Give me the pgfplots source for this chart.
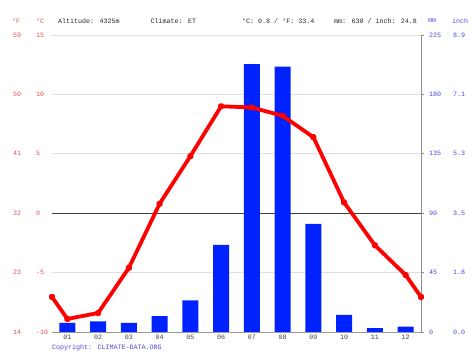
\documentclass[border=0pt]{standalone}
\usepackage{pgfplots}
\usepackage{pgfplotstable}
\pgfplotsset{compat=1.18}
\usepackage{fontspec}
\setmainfont{Liberation Mono}
\definecolor{tred}{RGB}{226,80,80}
\definecolor{tblue}{RGB}{72,72,226}
\definecolor{barblue}{RGB}{0,34,255}
\definecolor{linered}{RGB}{255,0,0}
\newcommand{\fs}{\fontsize{6.7}{8}\selectfont}

\pgfplotstableread{
m mm
1 7
2 8
3 7
4 12
5 24
6 66
7 203
8 201
9 82
10 13
11 3
12 4
}\prec

\pgfplotstableread{
x t
0.5 -7.05
1 -8.9
2 -8.4
3 -4.6
4 0.8
5 4.8
6 9.0
7 8.9
8 8.2
9 6.4
10 0.9
11 -2.7
12 -5.2
12.5 -7.05
}\temp

\begin{document}
\begin{tikzpicture}
\path[use as bounding box] (0,0) rectangle (474bp,355bp);
% axis 1: temperature grid + labels
\begin{axis}[
  scale only axis, width=369bp, height=297bp,
  at={(52bp,23bp)}, anchor=south west,
  xmin=0.5, xmax=12.5, ymin=-10, ymax=15,
  separate axis lines,
  axis x line*=bottom, axis y line*=left,
  x axis line style={draw=gray!80, -},
  y axis line style={draw=none},
  xtick={1,...,12},
  xticklabels={01,02,03,04,05,06,07,08,09,10,11,12},
  xtick style={draw=none},
  extra x ticks={0.5,1.5,...,12.5},
  extra x tick labels={},
  extra x tick style={tick style={draw=gray!80, line width=0.6pt}, major tick length=3bp, tick align=outside},
  xticklabel style={font=\fs, text=black!75, inner sep=0pt, yshift=-3bp},
  ytick={-10,-5,0,5,10,15},
  yticklabels={\makebox[23bp][l]{14}-10,\makebox[23bp][l]{23}-5,\makebox[23bp][l]{32}0,\makebox[23bp][l]{41}5,\makebox[23bp][l]{50}10,\makebox[23bp][l]{59}15},
  ytick style={draw=none},
  yticklabel style={font=\fs, text=tred, anchor=west, inner sep=0pt, xshift=-39bp},
  ymajorgrids, grid style={draw=gray!25, line width=0.6pt},
]
\draw[black!75, line width=0.8pt] (axis cs:0.5,0) -- (axis cs:12.5,0);
\end{axis}
% axis 2: precipitation bars
\begin{axis}[
  scale only axis, width=369bp, height=297bp,
  at={(52bp,23bp)}, anchor=south west,
  xmin=0.5, xmax=12.5, ymin=0, ymax=225,
  axis x line=none, axis y line*=right,
  y axis line style={draw=gray!90, line width=0.8pt, -},
  ytick={0,45,90,135,180,225},
  yticklabels={\makebox[24bp][l]{0}0.0,\makebox[24bp][l]{45}1.8,\makebox[24bp][l]{90}3.5,\makebox[24bp][l]{135}5.3,\makebox[24bp][l]{180}7.1,\makebox[24bp][l]{225}8.9},
  ytick style={draw=gray!90, line width=0.6pt}, major tick length=3bp, tick align=outside,
  yticklabel style={font=\fs, text=tblue, anchor=west, inner sep=0pt, xshift=5bp},
]
\addplot[ybar, bar width=16bp, fill=barblue, draw=none] table[x=m, y=mm] {\prec};
\end{axis}
% axis 3: temperature line
\begin{axis}[
  scale only axis, width=369bp, height=297bp,
  at={(52bp,23bp)}, anchor=south west,
  xmin=0.5, xmax=12.5, ymin=-10, ymax=15,
  axis lines=none, clip=false,
]
\addplot[linered, line width=3.8pt, line join=round, mark=*, mark size=1.6pt, mark options={fill=linered!85!black, draw=none}] table[x=x, y=t] {\temp};
\end{axis}
% header
\begin{scope}[every node/.style={font=\fs, anchor=west, inner sep=0pt}]
\node[text=tred] at (12bp,334bp) {°F};
\node[text=tred] at (36bp,334bp) {°C};
\node[text=black!85] at (58bp,334bp) {Altitude: 4325m};
\node[text=black!85] at (150.5bp,334bp) {Climate: ET};
\node[text=black!85] at (242bp,334bp) {°C: 0.8 / °F: 33.4};
\node[text=black!85] at (334bp,334bp) {mm: 630 / inch: 24.8};
\node[text=tblue] at (428bp,334bp) {mm};
\node[text=tblue] at (452bp,334bp) {inch};
\node[text=tblue] at (52bp,7bp) {Copyright: CLIMATE-DATA.ORG};
\end{scope}
\end{tikzpicture}
\end{document}
